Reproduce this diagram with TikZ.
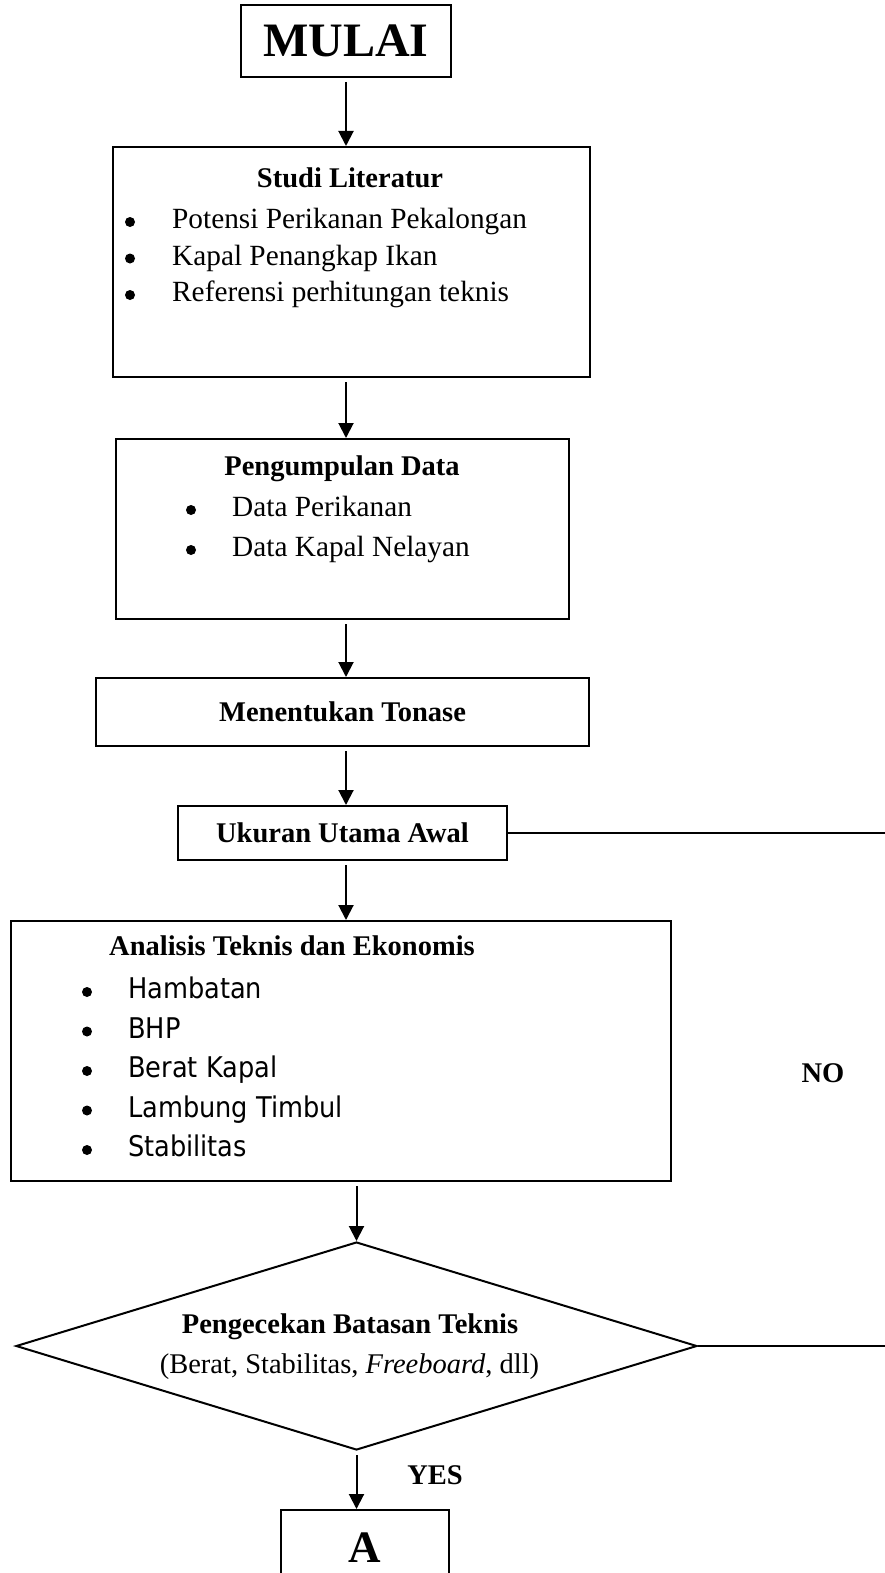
\documentclass[tikz,border=0pt]{standalone}
\usepackage{fontspec}
\setmainfont{Liberation Serif}
\newfontfamily\tahoma{DejaVu Sans Condensed}
\usetikzlibrary{positioning,shapes.geometric,arrows.meta}

\tikzset{
	box/.style={draw, line width=2pt, inner sep=0pt},
	head/.style={font=\fontsize{28.5}{34}\selectfont\bfseries},
	entry/.style={font=\fontsize{29.3}{34}\selectfont, anchor=west, inner sep=0pt, text height=20pt, text depth=7pt},
	sentry/.style={entry, font=\fontsize{28.5}{34}\selectfont\tahoma},
	dot/.style={circle, fill, minimum size=10pt, inner sep=0pt},
	flow/.style={-{Triangle[length=15pt,width=15pt]}, line width=2pt, shorten <=4pt},
	link/.style={line width=2pt},
}

\begin{document}
\begin{tikzpicture}[x=1pt,y=-1pt]
	\clip (0,0) rectangle (885,1573);
	
	\node[box, minimum width=210pt, minimum height=72pt, font=\fontsize{48}{56}\selectfont\bfseries] (mulai) at (346,41) {MULAI};
	
	\node[box, minimum width=477pt, minimum height=230pt] (studi) at (351.5,262) {};
	\node[head] (studihead) at (350,178) {Studi Literatur};
	\foreach \t [count=\i] in {Potensi Perikanan Pekalongan, Kapal Penangkap Ikan, Referensi perhitungan teknis} {
		\node[entry] (studi\i) at (172,185.5+36.5*\i) {\t};
		\node[dot] (studidot\i) at (130,185.5+36.5*\i) {};
	}
	
	\node[box, minimum width=453pt, minimum height=180pt] (data) at (342.5,529) {};
	\node[head] (datahead) at (342,469) {Pengumpulan Data};
	\foreach \t [count=\i] in {Data Perikanan, Data Kapal Nelayan} {
		\node[entry] (data\i) at (232,470+40*\i) {\t};
		\node[dot] (datadot\i) at (191,470+40*\i) {};
	}
	
	\node[box, head, minimum width=493pt, minimum height=68pt] (tonase) at (342.5,712) {Menentukan Tonase};
	\node[box, head, minimum width=329pt, minimum height=54pt] (ukuran) at (342.5,833) {Ukuran Utama Awal};
	\coordinate (edge1) at (885,833);
	
	\node[box, minimum width=660pt, minimum height=260pt] (analisis) at (341,1051) {};
	\node[head] (analisishead) at (292,946) {Analisis Teknis dan Ekonomis};
	\foreach \t [count=\i] in {Hambatan, BHP, Berat Kapal, Lambung Timbul, Stabilitas} {
		\node[sentry] (analisis\i) at (128,952.5+39.5*\i) {\t};
		\node[dot] (analisisdot\i) at (87,952.5+39.5*\i) {};
	}
	\node[head] (no) at (823,1073) {NO};
	
	\node[draw, diamond, line width=2pt, minimum width=681pt, minimum height=208pt, inner sep=0pt] (cek) at (356.5,1346) {};
	\node[head] (cekhead) at (350,1327) {Pengecekan Batasan Teknis};
	\node[font=\fontsize{28.5}{34}\selectfont] (cekbody) at (349.5,1367) {(Berat, Stabilitas, \textit{Freeboard}, dll)};
	\coordinate (edge2) at (885,1346);
	\node[head] (yes) at (435,1475) {YES};
	
	\node[box, anchor=north, minimum width=168pt, minimum height=130pt] (abox) at (365,1509) {};
	\node[font=\fontsize{45}{52}\selectfont\bfseries] (alabel) at (365,1548) {A};
	
	% connectors
	\draw[flow] (mulai.south) -- (mulai.south |- studi.north);
	\draw[flow] (studi.south -| mulai) -- (data.north -| mulai);
	\draw[flow] (data.south -| mulai) -- (tonase.north -| mulai);
	\draw[flow] (tonase.south -| mulai) -- (ukuran.north -| mulai);
	\draw[flow] (ukuran.south -| mulai) -- (analisis.north -| mulai);
	\draw[flow] (analisis.south -| cek.north) -- (cek.north);
	\draw[flow] (cek.south) -- (cek.south |- abox.north);
	\draw[link] (ukuran.east) -- (edge1);
	\draw[link] (cek.east) -- (edge2);
\end{tikzpicture}
\end{document}
